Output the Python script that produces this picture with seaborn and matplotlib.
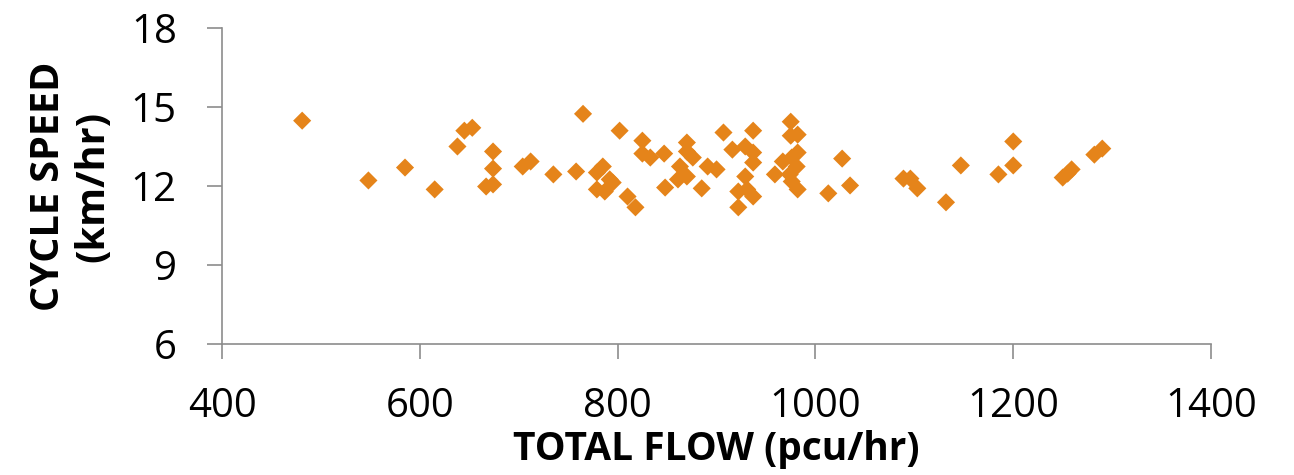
import pandas as pd
import matplotlib
matplotlib.use('Agg')
import matplotlib.pyplot as plt
import seaborn as sns

# Values
total_flow = [481, 548, 585, 615, 638, 645, 653, 674, 674, 667, 674, 704, 712, 735, 758, 765,
              785, 779, 792, 795, 779, 787, 810, 818, 802, 825, 825, 833, 847, 870, 870, 876,
              863, 861, 870, 891, 900, 848, 885, 907, 937, 916, 929, 937, 937, 929, 922, 931,
              937, 922,
              975, 975, 982, 982, 976, 967, 981, 959, 974, 976, 982, 1013, 1027, 1035,
              1089, 1096, 1103, 1147, 1132, 1185, 1200, 1200, 1250, 1255, 1259, 1282, 1290]
cycle_speed = [14.48, 12.21, 12.70, 11.87, 13.50, 14.10, 14.21, 13.31, 12.66, 11.98, 12.06, 12.74,
               12.93, 12.44, 12.55, 14.74,
               12.74, 12.51, 12.25, 12.13, 11.87, 11.79, 11.60, 11.19, 14.10, 13.72, 13.23, 13.08,
               13.23, 13.65, 13.31, 13.08, 12.74, 12.25, 12.36, 12.74, 12.63, 11.94, 11.91, 14.03,
               14.10, 13.38, 13.50, 13.27, 12.89, 12.36, 11.79, 11.87, 11.60, 11.19,
               14.44, 13.91, 13.95, 13.27, 13.08, 12.93, 12.74, 12.44, 12.44, 12.17, 11.87, 11.72,
               13.04, 12.02,
               12.28, 12.28, 11.91, 12.78, 11.38, 12.44, 13.69, 12.78, 12.32, 12.47, 12.63, 13.19,
               13.42]
x_ticks = [400, 600, 800, 1000, 1200, 1400]
y_ticks = [6, 9, 12, 15, 18]

df = pd.DataFrame({'flow': total_flow, 'speed': cycle_speed})

sns.set_style('white')
plt.rcParams['font.family'] = ['Open Sans', 'DejaVu Sans']

fig = plt.figure(figsize=(12.94, 4.75), dpi=100)
ax = fig.add_axes([0.1716, 0.2758, 0.7643, 0.6653])

sns.scatterplot(x='flow', y='speed', data=df, ax=ax, marker='D', s=85,
                color='#E5841A', edgecolor='none', linewidth=0)

ax.set_xlim(400, 1400)
ax.set_ylim(6, 18)
ax.set_xticks(x_ticks)
ax.set_yticks(y_ticks)

grey = '#8C8C8C'
for side in ['top', 'right']:
    ax.spines[side].set_visible(False)
for side in ['left', 'bottom']:
    ax.spines[side].set_color(grey)
    ax.spines[side].set_linewidth(1.2)

ax.tick_params(axis='both', direction='out', length=10.5, width=1.2, color=grey,
               labelsize=29, labelcolor='black', bottom=True, left=True)
ax.tick_params(axis='x', pad=20)
ax.tick_params(axis='y', pad=22)

ax.set_xlabel('TOTAL FLOW (pcu/hr)', fontsize=28, fontweight='bold', labelpad=2,
              color='black')
ax.set_ylabel('CYCLE SPEED\n(km/hr)', fontsize=28.5, fontweight='bold', labelpad=13,
              linespacing=1.2, color='black')

fig.savefig('out.png', dpi=100)
